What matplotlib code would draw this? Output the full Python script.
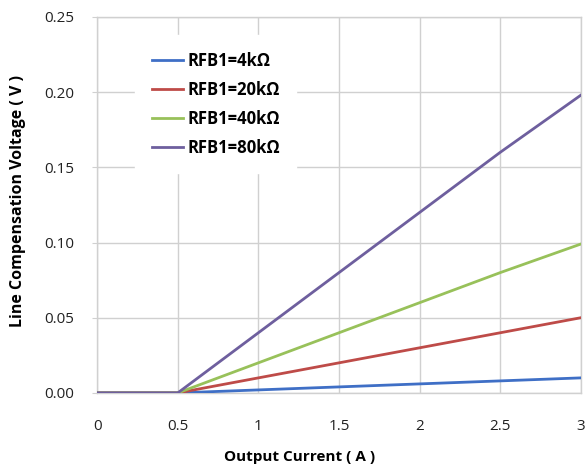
import matplotlib.pyplot as plt
from matplotlib.ticker import FormatStrFormatter

plt.rcParams["font.family"] = ["Open Sans", "DejaVu Sans"]

# Output current (A)
current = [0, 0.5, 1, 1.5, 2, 2.5, 3]

# Line compensation voltage (V) per RFB1 value
v_4k = [0, 0, 0.002, 0.004, 0.006, 0.008, 0.010]
v_20k = [0, 0, 0.010, 0.020, 0.030, 0.040, 0.050]
v_40k = [0, 0, 0.020, 0.040, 0.060, 0.080, 0.099]
v_80k = [0, 0, 0.040, 0.080, 0.120, 0.160, 0.198]

labels = ["RFB1=4kΩ", "RFB1=20kΩ", "RFB1=40kΩ", "RFB1=80kΩ"]
colors = ["#3F6FC6", "#BE4B48", "#98C15A", "#6E5F9E"]

fig = plt.figure(figsize=(5.85, 4.70), dpi=100)
ax = fig.add_axes([0.166, 0.164, 0.827, 0.800])

for y, lab, col in zip([v_4k, v_20k, v_40k, v_80k], labels, colors):
    ax.plot(current, y, color=col, linewidth=2.0, label=lab, zorder=3)

ax.set_xlim(0, 3)
ax.set_ylim(0, 0.25)
ax.set_xticks(current)
ax.set_xticklabels(["0", "0.5", "1", "1.5", "2", "2.5", "3"])
ax.set_yticks([0, 0.05, 0.10, 0.15, 0.20, 0.25])
ax.yaxis.set_major_formatter(FormatStrFormatter("%.2f"))

ax.grid(True, color="#D0D0D0", linewidth=1.0, zorder=0)
ax.set_axisbelow(True)
for side in ["top", "right", "left", "bottom"]:
    ax.spines[side].set_color("#D0D0D0")
    ax.spines[side].set_linewidth(1.0)

ax.tick_params(axis="y", length=3.6, color="#D0D0D0", pad=13, labelsize=11, labelcolor="#222222")
ax.tick_params(axis="x", length=0, pad=19, labelsize=11, labelcolor="#222222")

fig.text(300 / 585, 1 - 457 / 470, "Output Current ( A )", fontsize=11,
         fontweight="bold", ha="center", va="center")
fig.text(18 / 585, 1 - 201 / 470, "Line Compensation Voltage ( V )", fontsize=11.5,
         fontweight="bold", ha="center", va="center", rotation=90)

leg = ax.legend(loc="upper left", bbox_to_anchor=(0.062, 0.973), frameon=True,
                fancybox=False, edgecolor="white", facecolor="white", framealpha=1,
                fontsize=12, handlelength=1.85, handletextpad=0.25, labelspacing=0.65,
                borderpad=1.0)
for t in leg.get_texts():
    t.set_fontweight("bold")

fig.savefig("out.png", dpi=100)
